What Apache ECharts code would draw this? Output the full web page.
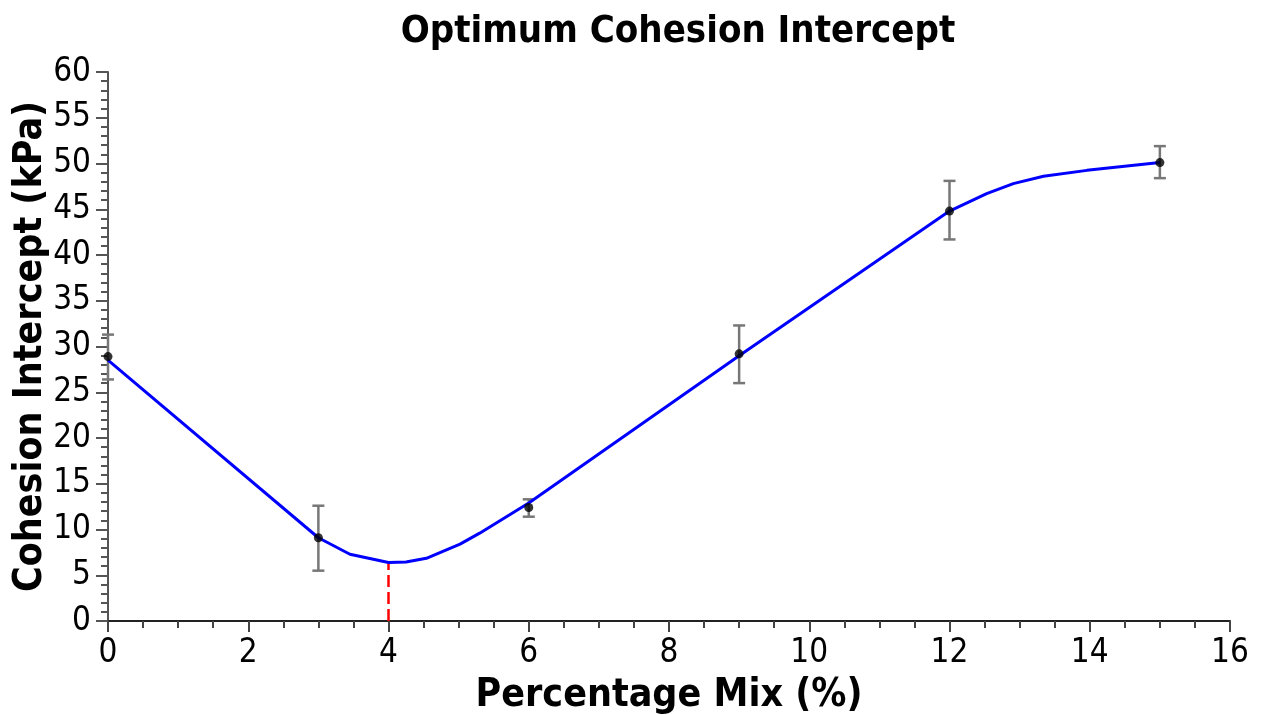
<!DOCTYPE html>
<html>
<head>
<meta charset="utf-8">
<script src="https://cdn.jsdelivr.net/npm/echarts@6/dist/echarts.min.js"></script>
<style>
  html, body { margin: 0; padding: 0; background: #fff; }
  #main { width: 1263px; height: 715px; }
</style>
</head>
<body>
<div id="main"></div>
<script>
// measured points with error bars
var mixPct = [0, 3, 6, 9, 12, 15];
var cohesion = [28.9, 9.1, 12.4, 29.2, 44.8, 50.1];
var errLow = [26.4, 5.5, 11.4, 26.0, 41.7, 48.4];
var errHigh = [31.3, 12.6, 13.3, 32.3, 48.1, 51.9];

// fitted curve
var fitX = [0, 3, 3.45, 4.0, 4.25, 4.54, 5.02, 5.3, 6.0, 9.0, 12.0, 12.53, 12.91, 13.34, 13.96, 15.0];
var fitY = [28.5, 9.1, 7.3, 6.4, 6.45, 6.85, 8.4, 9.6, 12.9, 29.0, 44.8, 46.7, 47.8, 48.6, 49.25, 50.1];

// optimum marker
var optX = 4;
var optY = 6.4;

var fontFam = '"DejaVu Sans Condensed", "DejaVu Sans", Verdana, sans-serif';

var pts = mixPct.map(function (x, i) { return [x, cohesion[i]]; });
var bars = mixPct.map(function (x, i) { return [x, errLow[i], errHigh[i]]; });
var fit = fitX.map(function (x, i) { return [x, fitY[i]]; });

var myChart = echarts.init(document.getElementById('main'), null, { renderer: 'canvas' });

var option = {
    animation: false,
    backgroundColor: '#fff',
    title: {
        text: 'Optimum Cohesion Intercept',
        left: 673,
        top: 8,
        textAlign: 'center',
        textStyle: { fontFamily: fontFam, fontWeight: 'bold', fontSize: 38, color: '#000' }
    },
    grid: { left: 108, right: 33, top: 72, bottom: 94, containLabel: false, outerBoundsMode: 'none' },
    xAxis: {
        type: 'value',
        min: 0, max: 16, interval: 2,
        name: 'Percentage Mix (%)',
        nameLocation: 'middle',
        nameGap: 55,
        nameMoveOverlap: false,
        nameTextStyle: { fontFamily: fontFam, fontWeight: 'bold', fontSize: 39, color: '#000' },
        axisLine: { onZero: false, lineStyle: { color: '#222', width: 2 } },
        axisTick: { length: 11, lineStyle: { color: '#444', width: 2 } },
        minorTick: { show: true, splitNumber: 4, length: 7, lineStyle: { color: '#444', width: 2 } },
        axisLabel: { fontFamily: fontFam, fontSize: 33, color: '#000', margin: 16 },
        splitLine: { show: false }
    },
    yAxis: {
        type: 'value',
        min: 0, max: 60, interval: 5,
        name: 'Cohesion Intercept (kPa)',
        nameLocation: 'middle',
        nameGap: 58,
        nameMoveOverlap: false,
        nameTextStyle: { fontFamily: fontFam, fontWeight: 'bold', fontSize: 39, color: '#000' },
        axisLine: { show: true, onZero: false, lineStyle: { color: '#555', width: 2 } },
        axisTick: { length: 12, lineStyle: { color: '#555', width: 2 } },
        minorTick: { show: true, splitNumber: 5, length: 7, lineStyle: { color: '#555', width: 2 } },
        axisLabel: { fontFamily: fontFam, fontSize: 33, color: '#000', margin: 17 },
        splitLine: { show: false }
    },
    series: [
        {
            name: 'fit',
            type: 'line',
            data: fit,
            showSymbol: false,
            smooth: false,
            lineStyle: { color: '#0000ff', width: 3 },
            z: 3
        },
        {
            name: 'optimum',
            type: 'line',
            data: [[optX, 0], [optX, optY]],
            showSymbol: false,
            lineStyle: { color: '#ff0000', width: 2.5, type: [12, 5] },
            z: 2
        },
        {
            name: 'error',
            type: 'custom',
            data: bars,
            renderItem: function (params, api) {
                var x = api.value(0);
                var lo = api.coord([x, api.value(1)]);
                var hi = api.coord([x, api.value(2)]);
                var cap = 6;
                var st = { stroke: '#777', lineWidth: 2.5 };
                return {
                    type: 'group',
                    children: [
                        { type: 'line', shape: { x1: lo[0], y1: lo[1], x2: hi[0], y2: hi[1] }, style: st },
                        { type: 'line', shape: { x1: lo[0] - cap, y1: lo[1], x2: lo[0] + cap, y2: lo[1] }, style: st },
                        { type: 'line', shape: { x1: hi[0] - cap, y1: hi[1], x2: hi[0] + cap, y2: hi[1] }, style: st }
                    ]
                };
            },
            z: 2
        },
        {
            name: 'data',
            type: 'scatter',
            data: pts,
            symbol: 'circle',
            symbolSize: 9,
            itemStyle: { color: '#000' },
            z: 4
        }
    ]
};

myChart.setOption(option);
window.addEventListener('resize', myChart.resize);
</script>
</body>
</html>
